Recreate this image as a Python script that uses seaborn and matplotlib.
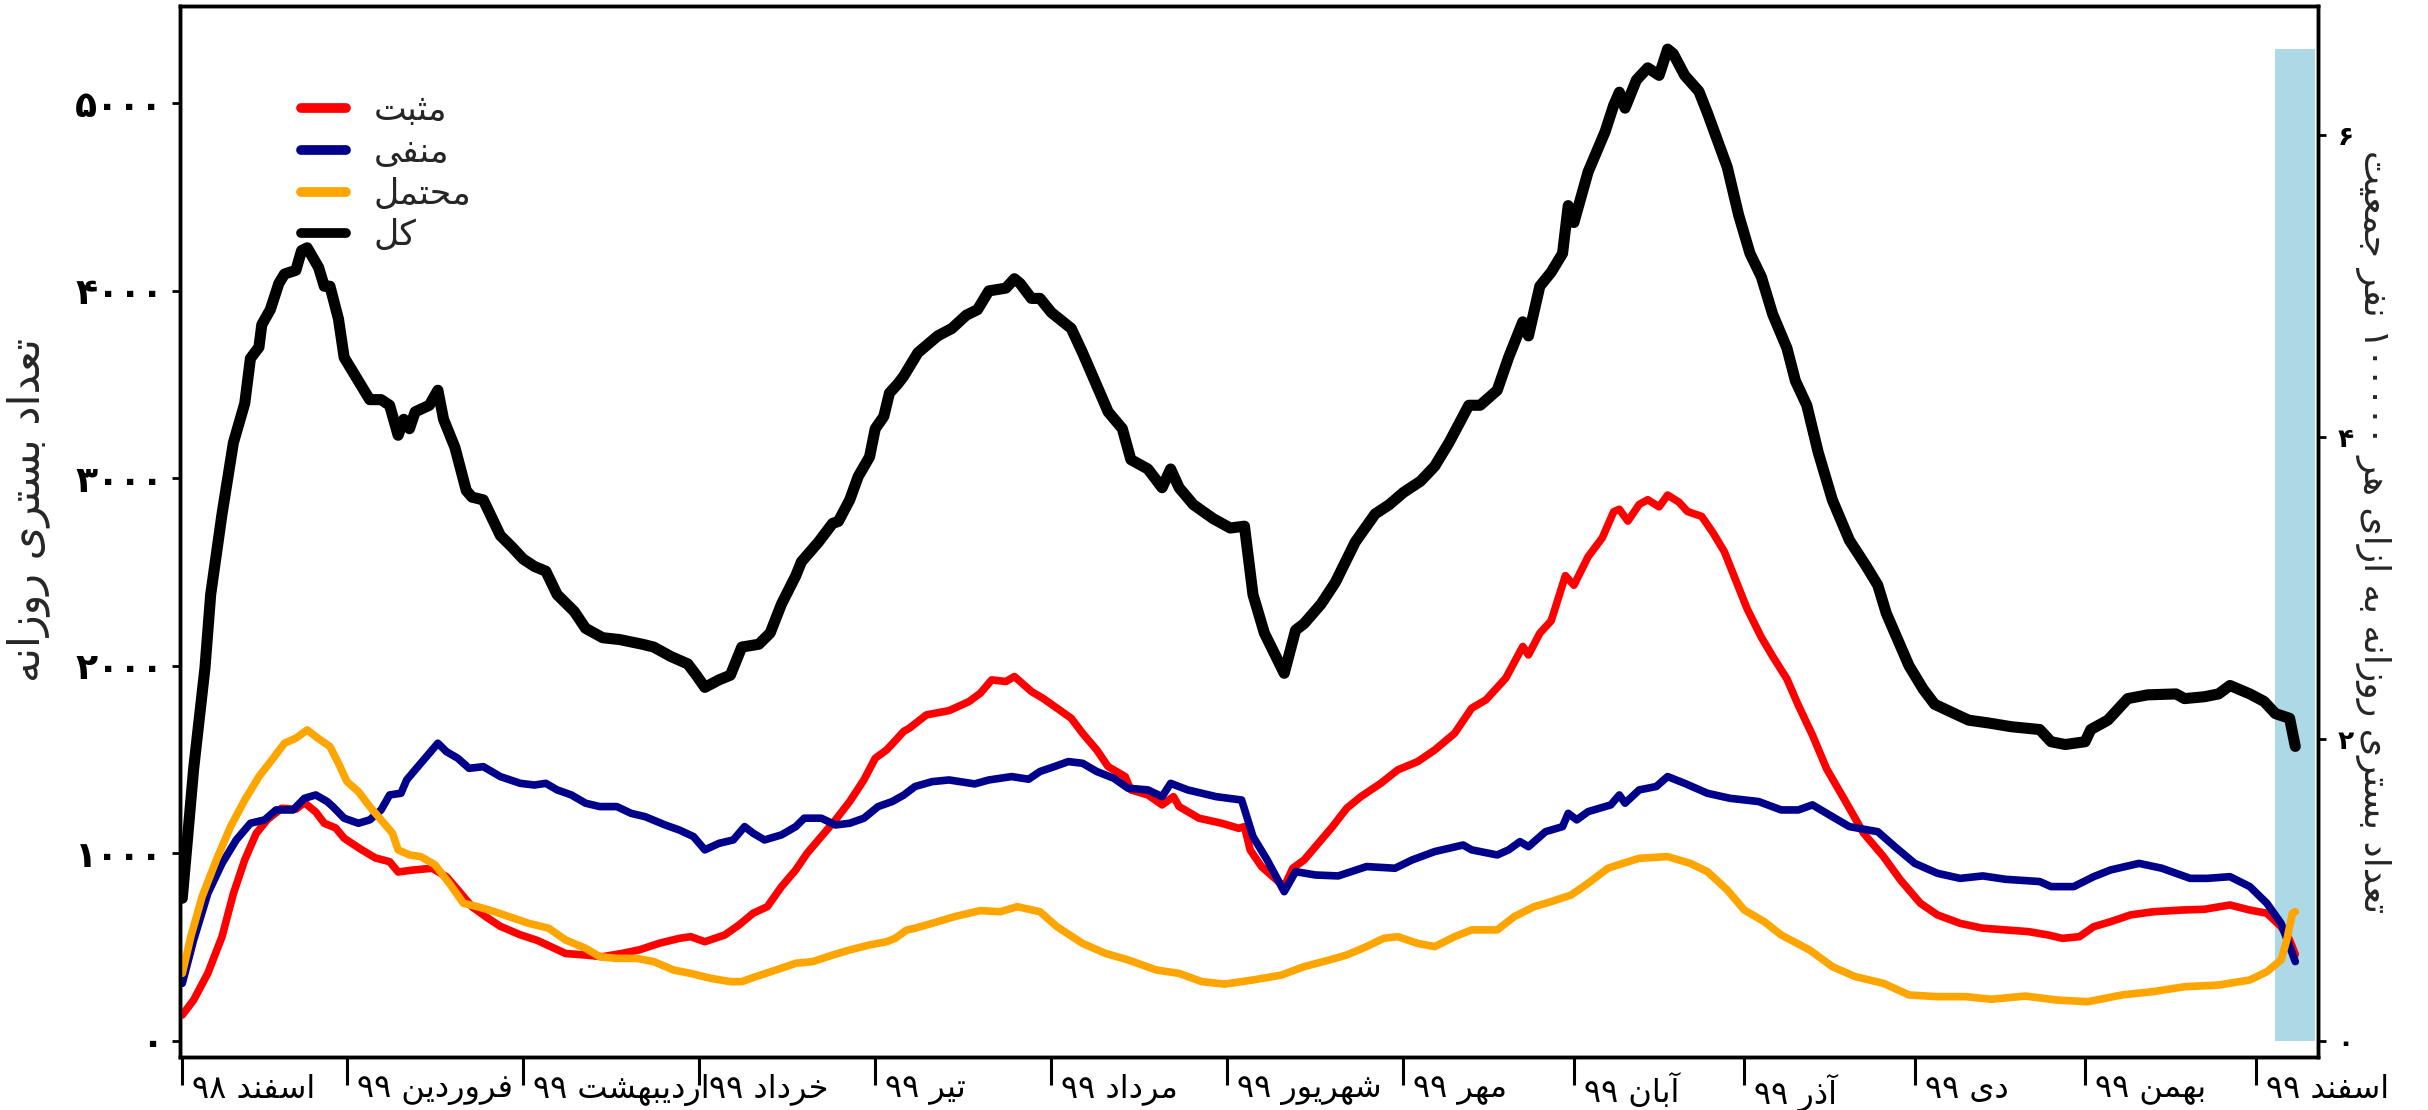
import re
import matplotlib
matplotlib.use("Agg")
import matplotlib.pyplot as plt
import matplotlib.transforms as mtransforms
from matplotlib import font_manager
from matplotlib.ft2font import FT2Font
from matplotlib.ticker import FuncFormatter
import seaborn as sns

# ---- data (day 0 = 1 Esfand 98) ----
month_days = [0, 29, 60, 91, 122, 153, 184, 215, 245, 275, 305, 335, 365]
month_labels = ["اسفند ۹۸", "فروردین ۹۹", "اردیبهشت ۹۹", "خرداد ۹۹", "تیر ۹۹",
                "مرداد ۹۹", "شهریور ۹۹", "مهر ۹۹", "آبان ۹۹", "آذر ۹۹", "دی ۹۹",
                "بهمن ۹۹", "اسفند ۹۹"]

series_names = ["مثبت", "منفی", "محتمل", "کل"]

pos_days = [0, 2, 4.5, 7, 9, 11, 13, 15, 17.5, 20, 21.5, 23.5, 25, 27, 28.5, 31.5, 34, 36.5, 38, 40.5,
            44, 46.5, 48.5, 51, 53.5, 56, 59.5, 62.5, 65, 67.5, 71, 74, 77.5, 80.5, 84, 87.5, 89.5, 92,
            95.5, 98, 100.5, 103, 105.5, 108, 110, 112.5, 115, 117.5, 120, 122, 124, 125.5, 127, 128,
            131, 135, 138.5, 140.5, 142.5, 145, 146.5, 149.5, 151.5, 154, 156.5, 158.5, 161, 163, 166,
            167, 170, 172.5, 174.5, 175.5, 179, 183, 186, 187, 188, 190, 192, 194, 195.5, 197.5, 200,
            202.5, 205, 207.5, 211, 214, 217.5, 220.5, 224, 227, 229.5, 233, 236, 237, 239, 241, 243.5,
            245, 247.5, 250, 252, 253, 254.5, 256.5, 258, 260, 261.5, 263.5, 265, 267.5, 269.5, 271.5,
            273.5, 275.5, 278, 280, 282.5, 284.5, 287, 289.5, 293, 296, 299.5, 302.5, 306, 309, 313,
            317, 321, 325, 328.5, 331, 334, 336.5, 339.5, 343, 347, 352, 356, 360.5, 364, 367, 369.5,
            371, 372]
pos_vals = [137, 217, 360, 555, 785, 965, 1105, 1180, 1240, 1235, 1270, 1220, 1160, 1135, 1080, 1020,
            975, 955, 900, 910, 920, 875, 805, 715, 660, 610, 565, 535, 500, 465, 457, 448, 466, 485,
            520, 546, 555, 528, 564, 617, 680, 715, 822, 911, 1000, 1089, 1178, 1276, 1391, 1507, 1551,
            1600, 1650, 1667, 1738, 1761, 1809, 1854, 1925, 1916, 1943, 1863, 1827, 1774, 1720, 1640,
            1551, 1462, 1409, 1338, 1311, 1258, 1302, 1249, 1187, 1160, 1133, 1142, 1018, 929, 875, 822,
            920, 964, 1053, 1142, 1240, 1302, 1373, 1445, 1489, 1551, 1640, 1774, 1818, 1934, 2103,
            2058, 2174, 2240, 2481, 2430, 2582, 2683, 2822, 2835, 2772, 2861, 2886, 2848, 2911, 2873,
            2823, 2797, 2709, 2608, 2456, 2304, 2152, 2050, 1930, 1790, 1630, 1450, 1267, 1107, 982,
            857, 733, 671, 626, 600, 591, 582, 564, 546, 555, 608, 635, 671, 688, 697, 701, 724, 697,
            680, 608, 537, 460]

neg_days = [0, 2, 4.5, 7, 9.5, 12, 14.5, 16.5, 19.5, 21.5, 23.5, 25.5, 26.5, 28.5, 31, 33, 35, 36.5,
            38.5, 39.5, 41, 43, 45, 46.5, 48.5, 50.5, 53, 56, 59.5, 62, 64, 66, 68.5, 71, 73.5, 76.5,
            79, 81.5, 85, 87.5, 90, 92, 94.5, 97, 99, 100.5, 102.5, 105.5, 108, 109.5, 112.5, 115,
            117.5, 120, 122.5, 125, 127, 129, 132, 135, 139.5, 142, 146, 149, 151, 153.5, 156, 158.5,
            161, 164, 166.5, 170, 172.5, 174, 177, 182, 186.5, 188.5, 191, 194, 196, 199.5, 203.5,
            208.5, 213.5, 216.5, 220.5, 225.5, 227, 231.5, 233.5, 235.5, 237, 240, 243, 244, 245.5,
            247.5, 251.5, 253, 254, 256.5, 259.5, 261.5, 264.5, 268.5, 272.5, 277.5, 281.5, 284.5, 287,
            290.5, 293.5, 298.5, 301.5, 305, 309, 313, 317, 321, 327, 329, 333, 336.5, 339.5, 344.5,
            348.5, 353.5, 356.5, 360.5, 364, 367, 369.5, 372]
neg_vals = [306, 537, 786, 946, 1071, 1160, 1178, 1231, 1231, 1293, 1311, 1276, 1249, 1187, 1160,
            1178, 1231, 1311, 1320, 1391, 1445, 1516, 1587, 1542, 1507, 1453, 1462, 1409, 1373, 1364,
            1373, 1338, 1311, 1267, 1249, 1249, 1213, 1195, 1151, 1124, 1089, 1018, 1053, 1071, 1142,
            1107, 1071, 1098, 1142, 1187, 1187, 1151, 1160, 1187, 1249, 1276, 1310, 1356, 1382, 1391,
            1370, 1391, 1409, 1395, 1436, 1462, 1489, 1480, 1436, 1400, 1347, 1338, 1302, 1373, 1338,
            1302, 1284, 1089, 964, 795, 902, 884, 879, 929, 920, 964, 1009, 1044, 1018, 991, 1018,
            1062, 1035, 1115, 1142, 1213, 1178, 1222, 1258, 1311, 1267, 1338, 1356, 1409, 1373, 1320,
            1293, 1276, 1231, 1231, 1258, 1195, 1142, 1115, 1035, 946, 893, 866, 879, 861, 849, 822,
            822, 875, 911, 946, 920, 866, 866, 875, 822, 733, 626, 422]

sus_days = [0, 1.5, 3.5, 6, 8.5, 11, 13.5, 16, 18, 20, 22, 23.5, 26, 27.5, 29, 31, 33, 35, 37, 38,
            40, 42, 44.5, 47, 49.5, 52, 55, 57.5, 61, 64.5, 67.5, 71, 73.5, 76.5, 80, 83, 86.5, 89.5,
            93, 96.5, 98.5, 101, 104.5, 108, 111, 114.5, 117.5, 121, 124, 125.5, 127.5, 129, 132, 136,
            140.5, 144, 147, 151, 154, 158.5, 162.5, 166.5, 171.5, 175.5, 179.5, 183.5, 188.5, 193.5,
            197.5, 202, 205, 208.5, 211.5, 214, 217.5, 220.5, 224, 227, 231.5, 234.5, 238, 241, 244.5,
            247.5, 251, 253, 256.5, 261.5, 265.5, 268.5, 272, 275, 278.5, 281.5, 286.5, 290.5, 294.5,
            299.5, 304, 309, 314, 318.5, 324.5, 330, 335.5, 341.5, 347, 352.5, 358.5, 364, 367, 369.5,
            370.5, 371.5, 372]
sus_vals = [359, 555, 769, 964, 1142, 1284, 1409, 1507, 1587, 1614, 1658, 1622, 1569, 1480, 1382,
            1329, 1249, 1178, 1107, 1018, 991, 982, 938, 840, 733, 715, 688, 662, 626, 600, 537, 493,
            448, 439, 439, 422, 377, 359, 333, 315, 315, 342, 377, 413, 422, 457, 484, 511, 528, 546,
            590, 600, 626, 662, 694, 688, 715, 688, 608, 519, 466, 431, 377, 359, 315, 302, 324, 350,
            395, 431, 457, 502, 546, 555, 519, 502, 555, 591, 591, 662, 715, 742, 777, 840, 920, 940,
            973, 982, 946, 902, 804, 697, 635, 564, 484, 395, 342, 306, 244, 235, 235, 221, 238, 217,
            208, 244, 262, 288, 297, 324, 368, 431, 537, 680, 688]

tot_days = [0, 2, 4, 5, 7, 9, 11, 12, 13.5, 14, 15.5, 17, 18, 20, 21, 22, 24, 25, 26, 27.5, 28.5, 31,
            33, 35, 36.5, 38, 39, 40, 41, 43.5, 45, 46, 48, 50, 51, 53, 56, 58, 60, 62, 64, 66, 69, 71,
            74, 77, 81, 83, 86, 89, 90.5, 92, 94.5, 96.5, 98.5, 101.5, 103.5, 105.5, 108, 109, 112,
            114.5, 115.5, 117.5, 119, 121, 122, 123.5, 124.5, 126, 127, 129.5, 133, 135.5, 138, 140,
            142, 145, 146.5, 147.5, 149.5, 151, 153, 156.5, 158.5, 161, 163, 165.5, 167, 170, 172.5,
            174, 175.5, 178, 181.5, 184.5, 187, 188.5, 190.5, 194, 196, 197.5, 200.5, 203, 206.5, 210,
            212.5, 215, 218, 220.5, 223, 226.5, 228.5, 231.5, 233.5, 236, 237, 239, 241, 243, 244, 245,
            247.5, 250.5, 252, 253, 254, 256, 258, 260, 261.5, 262.5, 264.5, 267, 268.5, 270.5, 272,
            274, 276, 278, 280, 282.5, 284, 286, 288, 290.5, 293.5, 296.5, 298.5, 300, 301.5, 304,
            306.5, 308.5, 312, 314.5, 318, 322, 327, 329, 331.5, 335, 336, 339, 342.5, 346, 351, 352.5,
            356, 358.5, 360.5, 364, 366.5, 368.5, 371, 372]
tot_vals = [760, 1450, 1990, 2380, 2810, 3190, 3400, 3640, 3700, 3820, 3900, 4040, 4090, 4110, 4215,
            4230, 4125, 4025, 4025, 3850, 3645, 3520, 3420, 3420, 3390, 3230, 3315, 3265, 3355, 3390,
            3470, 3315, 3165, 2935, 2900, 2885, 2695, 2635, 2570, 2530, 2505, 2380, 2290, 2200, 2150,
            2140, 2115, 2100, 2050, 2010, 1950, 1885, 1925, 1950, 2100, 2115, 2175, 2330, 2480, 2555,
            2660, 2760, 2770, 2885, 3010, 3115, 3265, 3330, 3455, 3505, 3545, 3670, 3760, 3800, 3870,
            3900, 4000, 4015, 4065, 4040, 3960, 3960, 3885, 3800, 3670, 3495, 3355, 3265, 3100, 3050,
            2950, 3050, 2950, 2860, 2785, 2735, 2745, 2380, 2175, 1960, 2190, 2225, 2330, 2445, 2660,
            2810, 2860, 2925, 2985, 3065, 3190, 3390, 3390, 3470, 3645, 3835, 3760, 4025, 4100, 4200,
            4455, 4365, 4635, 4850, 4990, 5060, 4975, 5125, 5190, 5150, 5290, 5265, 5150, 5065, 4950,
            4785, 4660, 4405, 4200, 4075, 3875, 3695, 3520, 3390, 3140, 2885, 2670, 2530, 2430, 2280,
            2175, 2000, 1875, 1795, 1745, 1710, 1695, 1675, 1660, 1595, 1580, 1595, 1660, 1710, 1825,
            1845, 1850, 1825, 1835, 1850, 1895, 1850, 1810, 1745, 1720, 1570]

incomplete_days = [368.4, 375.4]   # shaded last week
people_per_100k = 805              # population / 100000

# ---- Persian text shaping (matplotlib has no RTL/joining support) ----
FORMS = {
    "ا": ("\uFE8D", "\uFE8E", None, None), "آ": ("\uFE81", "\uFE82", None, None),
    "ب": ("\uFE8F", "\uFE90", "\uFE91", "\uFE92"), "پ": ("\uFB56", "\uFB57", "\uFB58", "\uFB59"),
    "ت": ("\uFE95", "\uFE96", "\uFE97", "\uFE98"), "ث": ("\uFE99", "\uFE9A", "\uFE9B", "\uFE9C"),
    "ج": ("\uFE9D", "\uFE9E", "\uFE9F", "\uFEA0"), "ح": ("\uFEA1", "\uFEA2", "\uFEA3", "\uFEA4"),
    "خ": ("\uFEA5", "\uFEA6", "\uFEA7", "\uFEA8"), "د": ("\uFEA9", "\uFEAA", None, None),
    "ذ": ("\uFEAB", "\uFEAC", None, None), "ر": ("\uFEAD", "\uFEAE", None, None),
    "ز": ("\uFEAF", "\uFEB0", None, None), "س": ("\uFEB1", "\uFEB2", "\uFEB3", "\uFEB4"),
    "ش": ("\uFEB5", "\uFEB6", "\uFEB7", "\uFEB8"), "ع": ("\uFEC9", "\uFECA", "\uFECB", "\uFECC"),
    "ف": ("\uFED1", "\uFED2", "\uFED3", "\uFED4"), "ک": ("\uFB8E", "\uFB8F", "\uFB90", "\uFB91"),
    "ل": ("\uFEDD", "\uFEDE", "\uFEDF", "\uFEE0"), "م": ("\uFEE1", "\uFEE2", "\uFEE3", "\uFEE4"),
    "ن": ("\uFEE5", "\uFEE6", "\uFEE7", "\uFEE8"), "ه": ("\uFEE9", "\uFEEA", "\uFEEB", "\uFEEC"),
    "و": ("\uFEED", "\uFEEE", None, None), "ی": ("\uFBFC", "\uFBFD", "\uFBFE", "\uFBFF"),
}
_ft = FT2Font(font_manager.findfont("DejaVu Sans"))
if _ft.get_char_index(0xFB8E) == 0:
    FORMS["ک"] = ("\uFED9", "\uFEDA", "\uFEDB", "\uFEDC")
if _ft.get_char_index(0xFBFC) == 0:
    FORMS["ی"] = ("\uFEEF", "\uFEF0", "\uFEF3", "\uFEF4")


def fa(text):
    out = []
    for i, ch in enumerate(text):
        if ch not in FORMS:
            out.append(ch)
            continue
        prev = text[i - 1] if i > 0 else ""
        nxt = text[i + 1] if i + 1 < len(text) else ""
        join_prev = prev in FORMS and FORMS[prev][2] is not None
        join_next = FORMS[ch][2] is not None and nxt in FORMS
        iso, fin, ini, med = FORMS[ch]
        out.append(med if join_prev and join_next else fin if join_prev else ini if join_next else iso)
    runs = re.findall(r"[0-9\u06F0-\u06F9]+|.", "".join(out))
    return "".join(reversed(runs))


def fa_num(v, pos=None):
    return str(int(round(v))).translate(str.maketrans("0123456789", "۰۱۲۳۴۵۶۷۸۹"))


# ---- plot ----
sns.set_theme(style="ticks")
plt.rcParams["font.family"] = ["DejaVu Sans"]

W, H = 2428, 1110
fig = plt.figure(figsize=(W / 100, H / 100), dpi=100)
ax = fig.add_axes([180 / W, 1 - 1057 / H, (2318 - 180) / W, (1057 - 6) / H])

ax.fill_between(incomplete_days, 0, max(tot_vals), color="lightblue", lw=0, zorder=1)

colors = ["#ff0000", "#00008b", "#ffa500", "#000000"]
widths = [5.5, 5.5, 5.5, 8]
all_days = [pos_days, neg_days, sus_days, tot_days]
all_vals = [pos_vals, neg_vals, sus_vals, tot_vals]
for name, d, v, c, w in zip(series_names, all_days, all_vals, colors, widths):
    sns.lineplot(x=d, y=v, ax=ax, color=c, linewidth=w, label=fa(name),
                 estimator=None, sort=False, zorder=3)

ax.set_xlim(-0.4, 376)
ax.set_ylim(-87, 5520)
ax.set_yticks([0, 1000, 2000, 3000, 4000, 5000])
ax.yaxis.set_major_formatter(FuncFormatter(fa_num))
ax.tick_params(axis="y", length=6, width=2, pad=6, labelsize=26, colors="black")
for lab in ax.get_yticklabels():
    lab.set_fontweight("bold")

ax.set_xticks(month_days)
ax.set_xticklabels([fa(m) for m in month_labels], ha="left")
ax.tick_params(axis="x", length=20, width=2.2, pad=-8, labelsize=23, colors="black")
shift = mtransforms.ScaledTranslation(0.1, 0, fig.dpi_scale_trans)
for lab in ax.get_xticklabels():
    lab.set_transform(lab.get_transform() + shift)

ax.set_ylabel(fa("تعداد بستری روزانه"), fontsize=31)
ax.yaxis.set_label_coords(-0.061, 0.52)

ax2 = ax.twinx()
ax2.set_ylim(-87 / people_per_100k, 5520 / people_per_100k)
ax2.set_yticks([0, 2, 4, 6])
ax2.yaxis.set_major_formatter(FuncFormatter(fa_num))
ax2.tick_params(axis="y", length=6, width=2, pad=8, labelsize=19, colors="black")
for lab in ax2.get_yticklabels():
    lab.set_fontweight("bold")
ax2.set_ylabel(fa("تعداد بستری روزانه به ازای هر ۱۰۰۰۰۰ نفر جمعیت"), fontsize=26,
               rotation=270, va="bottom")
ax2.yaxis.set_label_coords(1.0175, 0.5)

for a in (ax, ax2):
    for s in a.spines.values():
        s.set_linewidth(2.5)
        s.set_color("black")

leg = ax.legend(loc="upper left", bbox_to_anchor=(0.05, 0.93), frameon=False, fontsize=25,
                handlelength=1.3, handletextpad=0.8, labelspacing=0.22, borderaxespad=0)
for ln in leg.get_lines():
    ln.set_linewidth(7)

fig.savefig("out.png", dpi=100)
